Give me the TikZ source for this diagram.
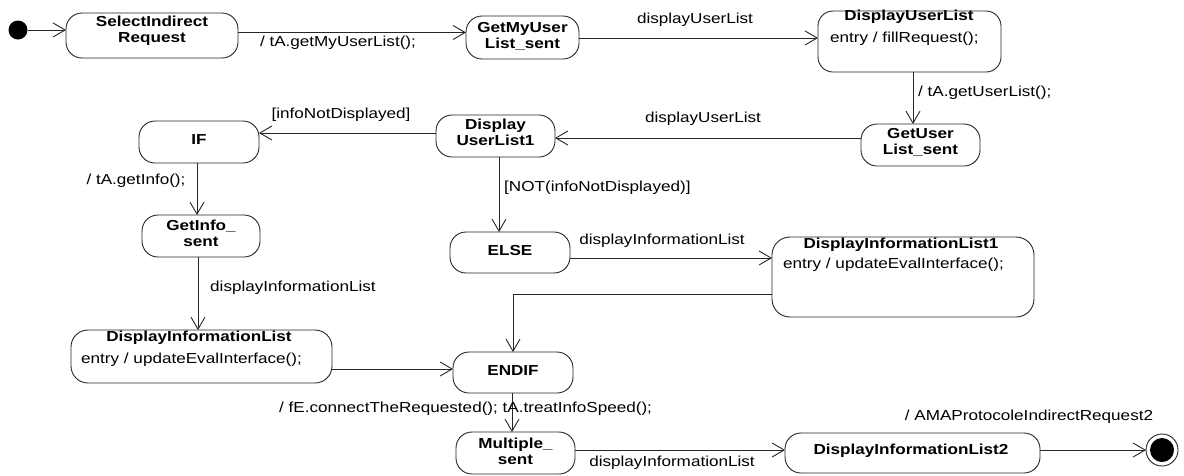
\documentclass[tikz,border=0pt]{standalone}
\usepackage{fontspec}
\setmainfont{Liberation Sans}[FakeStretch=1.18]
\usetikzlibrary{arrows.meta}
\begin{document}
\begin{tikzpicture}[x=1pt,y=-1pt,
  box/.style={draw=black!85, line width=0.9pt, rounded corners=16pt, inner sep=0pt, outer sep=0pt},
  bt/.style={font=\fontsize{14.5}{16}\selectfont\bfseries, align=center, inner sep=0pt},
  tt/.style={font=\fontsize{14.5}{16}\selectfont, inner sep=0pt},
  tr/.style={draw=black!85, line width=0.9pt, -{Straight Barb[length=12pt,width=14pt,line width=0.9pt]}}]
\useasboundingbox (0,0) rectangle (1184,475);
% states
\fill[black] (18,30) circle (9.5pt);
\coordinate (init) at (27.5,30);
\node[box, minimum width=172pt, minimum height=45pt] (sel) at (152,35.5) {};
\node[bt] (selt) at (152,31) {SelectIndirect\\Request};
\node[box, minimum width=113pt, minimum height=43pt] (gmu) at (522.5,37.5) {};
\node[bt] (gmut) at (522.5,36) {GetMyUser\\List\_sent};
\node[box, rounded corners=15pt, minimum width=183pt, minimum height=61pt] (dul) at (909.5,41.5) {};
\node[bt] (dult) at (909,17) {DisplayUserList};
\node[tt, anchor=west] (dule) at (830,39) {entry / fillRequest();};
\node[box, minimum width=119pt, minimum height=42pt] (gus) at (920.5,145) {};
\node[bt] (gust) at (920.5,142.5) {GetUser\\List\_sent};
\node[box, minimum width=119pt, minimum height=42pt] (du1) at (495.5,136) {};
\node[bt] (du1t) at (495.5,132.5) {Display\\UserList1};
\node[box, minimum width=120pt, minimum height=42pt] (if) at (199,142) {};
\node[bt] (ift) at (199,140) {IF};
\node[box, minimum width=118pt, minimum height=42pt] (gi) at (201,236) {};
\node[bt] (git) at (201,233.5) {GetInfo\_\\sent};
\node[box, rounded corners=17pt, minimum width=261pt, minimum height=53pt] (dil) at (201.5,356.5) {};
\node[bt] (dilt) at (199,338) {DisplayInformationList};
\node[tt, anchor=west] (dile) at (81,360) {entry / updateEvalInterface();};
\node[box, minimum width=120pt, minimum height=41pt] (else) at (510,252.5) {};
\node[bt] (elset) at (510,251) {ELSE};
\node[box, rounded corners=18pt, minimum width=262pt, minimum height=80pt] (dil1) at (903,277) {};
\node[bt] (dil1t) at (901,245) {DisplayInformationList1};
\node[tt, anchor=west] (dil1e) at (783,265) {entry / updateEvalInterface();};
\node[box, minimum width=120pt, minimum height=41pt] (endif) at (513,372.5) {};
\node[bt] (endift) at (513,370.5) {ENDIF};
\node[box, minimum width=119pt, minimum height=42pt] (mul) at (515.5,453) {};
\node[bt] (mult) at (515.5,451) {Multiple\_\\sent};
\node[box, minimum width=255pt, minimum height=40pt] (dil2) at (912.5,453) {};
\node[bt] (dil2t) at (911,451) {DisplayInformationList2};
\draw[black!85, line width=0.9pt] (1162,450) circle (16pt);
\fill[black] (1162,450) circle (12pt);
\coordinate (fin) at (1146,450);
% transitions
\draw[tr] (init) -- (init -| sel.west);
\draw[tr] (sel.east |- 0,32.5) -- (gmu.west |- 0,32.5);
\draw[tr] (gmu.east |- 0,38) -- (dul.west |- 0,38);
\draw[tr] (dul.south -| 913,0) -- (gus.north -| 913,0);
\draw[tr] (gus.west |- 0,138) -- (du1.east |- 0,138);
\draw[tr] (du1.west |- 0,133) -- (if.east |- 0,133);
\draw[tr] (if.south -| 197,0) -- (gi.north -| 197,0);
\draw[tr] (gi.south -| 198,0) -- (dil.north -| 198,0);
\draw[tr] (du1.south -| 499,0) -- (else.north -| 499,0);
\draw[tr] (else.east |- 0,258) -- (dil1.west |- 0,258);
\draw[tr] (dil1.west |- 0,294) -- (513,294) -- (endif.north -| 513,0);
\draw[tr] (dil.east |- 0,369) -- (endif.west |- 0,369);
\draw[tr] (endif.south -| 512,0) -- (mul.north -| 512,0);
\draw[tr] (mul.east |- 0,450) -- (dil2.west |- 0,450);
\draw[tr] (dil2.east |- 0,450) -- (fin);
% labels
\node[tt] (l2) at (338,43) {/ tA.getMyUserList();};
\node[tt] (l3) at (695,20) {displayUserList};
\node[tt, anchor=west] (l4) at (918,93) {/ tA.getUserList();};
\node[tt] (l5) at (703,119) {displayUserList};
\node[tt] (l6) at (341,115) {[infoNotDisplayed]};
\node[tt] (l7) at (136,181) {/ tA.getInfo();};
\node[tt, anchor=west] (l8) at (210,288) {displayInformationList};
\node[tt, anchor=west] (l9) at (504,188) {[NOT(infoNotDisplayed)]};
\node[tt] (l10) at (662,241) {displayInformationList};
\node[tt, anchor=west] (l13) at (279,409) {/ fE.connectTheRequested(); tA.treatInfoSpeed();};
\node[tt] (l14) at (672,463) {displayInformationList};
\node[tt] (l15) at (1029,417) {/ AMAProtocoleIndirectRequest2};
\end{tikzpicture}
\end{document}
